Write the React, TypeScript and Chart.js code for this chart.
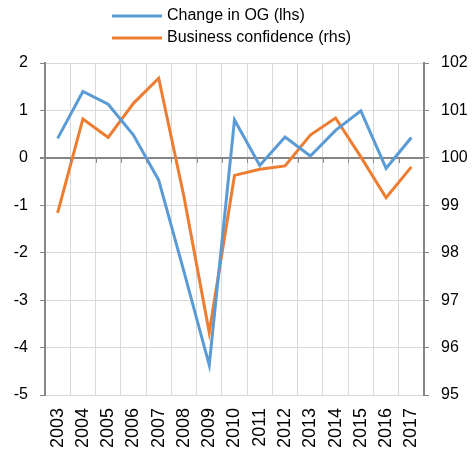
import React, { useEffect, useRef } from "react";
import { Chart, registerables } from "chart.js";

Chart.register(...registerables);

const years = ["2003","2004","2005","2006","2007","2008","2009","2010","2011","2012","2013","2014","2015","2016","2017"];
const changeInOG = [0.41, 1.4, 1.13, 0.48, -0.47, -2.4, -4.37, 0.8, -0.16, 0.44, 0.04, 0.58, 0.99, -0.22, 0.43];
const businessConfidence = [98.84, 100.82, 100.43, 101.15, 101.68, 99.18, 96.32, 99.63, 99.76, 99.83, 100.48, 100.84, 100.02, 99.16, 99.81];
const leftTicks = [-5, -4, -3, -2, -1, 0, 1, 2];
const rightTicks = [95, 96, 97, 98, 99, 100, 101, 102];

const BLUE = "#5B9BD5";
const ORANGE = "#ED7D31";
const FONT = "'Liberation Sans', Arial, sans-serif";

const extrasPlugin = {
  id: "extras",
  afterDraw(chart: any) {
    const ctx = chart.ctx;
    // tick marks under the zero line at category boundaries
    const x = chart.scales.x;
    const y = chart.scales.y;
    const y0 = y.getPixelForValue(0);
    const step = x.getPixelForValue(1) - x.getPixelForValue(0);
    ctx.save();
    ctx.strokeStyle = "#868686";
    ctx.lineWidth = 1;
    for (let i = 0; i <= years.length; i++) {
      const px = Math.round(x.getPixelForValue(i) - step / 2) + 0.5;
      ctx.beginPath();
      ctx.moveTo(px, y0);
      ctx.lineTo(px, y0 + 5);
      ctx.stroke();
    }
    // legend, stacked vertically
    const items = chart.data.datasets;
    const lx = 112;
    const rows = [16, 38];
    ctx.font = "16px " + FONT;
    ctx.textBaseline = "middle";
    ctx.textAlign = "left";
    items.forEach((ds: any, i: number) => {
      ctx.strokeStyle = ds.borderColor;
      ctx.lineWidth = 3;
      ctx.beginPath();
      ctx.moveTo(lx, rows[i]);
      ctx.lineTo(lx + 50, rows[i]);
      ctx.stroke();
      ctx.fillStyle = "#000";
      ctx.fillText(ds.label, lx + 55, rows[i]);
    });
    ctx.restore();
  },
};

export default function App() {
  const ref = useRef<HTMLCanvasElement>(null);
  useEffect(() => {
    document.body.style.margin = "0";
    const chart = new Chart(ref.current!, {
      type: "line",
      data: {
        labels: years,
        datasets: [
          {
            label: "Change in OG (lhs)",
            data: changeInOG,
            borderColor: BLUE,
            backgroundColor: BLUE,
            borderWidth: 3,
            pointRadius: 0,
            tension: 0,
            yAxisID: "y",
          },
          {
            label: "Business confidence (rhs)",
            data: businessConfidence,
            borderColor: ORANGE,
            backgroundColor: ORANGE,
            borderWidth: 3,
            pointRadius: 0,
            tension: 0,
            yAxisID: "y1",
          },
        ],
      },
      options: {
        animation: false,
        responsive: true,
        maintainAspectRatio: false,
        layout: { padding: { top: 63, left: 0, right: 0, bottom: 0 } },
        plugins: {
          legend: { display: false },
          tooltip: { enabled: false },
        },
        scales: {
          x: {
            offset: true,
            grid: { offset: true, color: "#d9d9d9", drawTicks: false },
            border: { display: false },
            ticks: {
              minRotation: 90,
              maxRotation: 90,
              padding: 13,
              color: "#000",
              font: { family: FONT, size: 18 },
              autoSkip: false,
            },
            afterFit: (s: any) => { s.height = 55; },
          },
          y: {
            position: "left",
            min: leftTicks[0],
            max: leftTicks[leftTicks.length - 1],
            afterBuildTicks: (s: any) => { s.ticks = leftTicks.map((v) => ({ value: v })); },
            grid: {
              color: (c: any) => (c.tick && c.tick.value === 0 ? "#868686" : "#d9d9d9"),
              lineWidth: (c: any) => (c.tick && c.tick.value === 0 ? 2 : 1),
              tickColor: "#868686",
              tickLength: 5,
            },
            border: { display: true, color: "#868686", width: 2 },
            ticks: {
              padding: 12,
              color: "#000",
              font: { family: FONT, size: 16 },
            },
            afterFit: (s: any) => { s.width = 45; },
          },
          y1: {
            position: "right",
            min: rightTicks[0],
            max: rightTicks[rightTicks.length - 1],
            afterBuildTicks: (s: any) => { s.ticks = rightTicks.map((v) => ({ value: v })); },
            grid: {
              drawOnChartArea: false,
              tickColor: "#868686",
              tickLength: 5,
            },
            border: { display: true, color: "#868686", width: 2 },
            ticks: {
              padding: 12,
              color: "#000",
              font: { family: FONT, size: 16 },
            },
            afterFit: (s: any) => { s.width = 49; },
          },
        },
      },
      plugins: [extrasPlugin],
    });
    return () => chart.destroy();
  }, []);
  return (
    <div style={{ width: 473, height: 450, position: "relative" }}>
      <canvas ref={ref} />
    </div>
  );
}
